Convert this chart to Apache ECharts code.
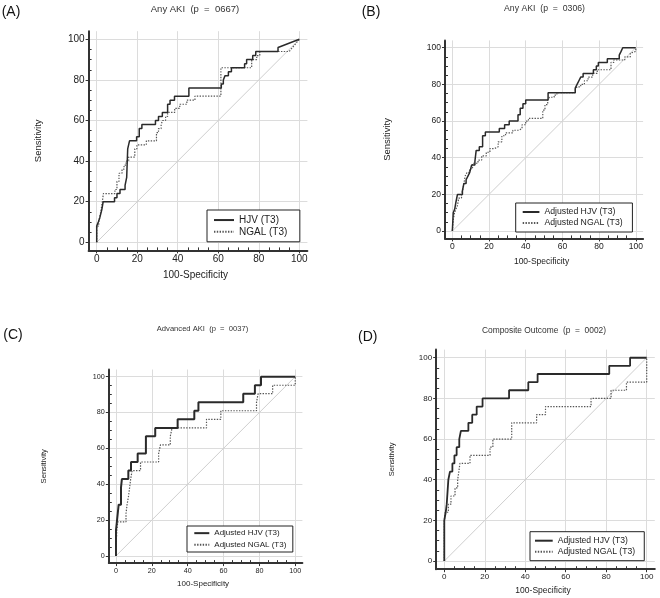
<!DOCTYPE html>
<html><head><meta charset="utf-8">
<script src="https://cdn.jsdelivr.net/npm/echarts@6/dist/echarts.min.js"></script>
<style>html,body{margin:0;padding:0;background:#fff}#c{width:660px;height:598px}</style>
</head><body><div id="c"></div>
<script>
// ---------- data ----------
const tickLabels = [0, 20, 40, 60, 80, 100];
const refLine = [[0, 0], [100, 100]];
const panelLabels = ['(A)', '(B)', '(C)', '(D)'];
const panelTitles = ['Any AKI  (p  =  0667)', 'Any AKI  (p  =  0306)', 'Advanced AKI  (p  =  0037)', 'Composite Outcome  (p  =  0002)'];
const namesA = ['HJV (T3)', 'NGAL (T3)'];
const namesAdj = ['Adjusted HJV (T3)', 'Adjusted NGAL (T3)'];
const xName = '100-Specificity';
const yName = 'Sensitivity';

const hjvA = [[0,0],[0,8],[0.8,8],[0.8,10],[1.5,10],[1.5,12],[2,12],[2,14],[2.5,14],[2.5,16],[3.2,16],[3.2,20],[8.8,20],[8.8,22],[10,22],[10,24],[11.5,24],[11.5,26],[14,26],[14,28],[14.8,28],[14.8,32],[15.3,32],[15.3,46],[16.2,46],[16.2,50],[19.7,50],[19.7,52],[21,52],[21,56],[22.3,56],[22.3,58],[29,58],[29,60],[30.5,60],[30.5,62],[32.4,62],[32.4,64],[35,64],[35,68],[36.2,68],[36.2,70],[38.4,70],[38.4,72],[45.5,72],[45.5,76],[61.5,76],[61.5,78],[62.5,78],[62.5,80],[63.3,80],[63.3,82],[65,82],[65,84],[66.5,84],[66.5,86],[73,86],[73,88],[74,88],[74,90],[77,90],[77,92],[78.5,92],[78.5,94],[89.5,94],[89.5,96],[100,100]];
const ngalA = [[0,0],[0,8],[1,8],[1,10],[1.8,10],[1.8,14],[2.5,14],[2.5,18],[3.3,18],[3.3,24],[9,24],[9,26],[10,26],[10,30],[11,30],[11,34],[12.5,34],[12.5,36],[13.5,36],[13.5,38],[14.5,38],[14.5,40],[15.8,40],[15.8,42],[18.8,42],[18.8,46],[19.8,46],[19.8,48],[24.5,48],[24.5,50],[29.5,50],[29.5,54],[30.5,54],[30.5,56],[31.8,56],[31.8,58],[32.5,58],[32.5,60],[34,60],[34,62],[35,62],[35,64],[38.5,64],[38.5,66],[41,66],[41,68],[44.5,68],[44.5,70],[48.5,70],[48.5,72],[61.3,72],[61.3,86],[76.5,86],[76.5,90],[79,90],[79,92],[80.5,92],[80.5,94],[95,94],[100,100]];

const hjvB = [[0,0],[0.5,0],[0.5,10],[1.3,10],[1.3,12],[2,12],[2,16],[2.8,16],[2.8,20],[5.5,20],[5.5,22],[6.3,22],[6.3,26],[7.5,26],[7.5,28],[8.5,28],[8.5,30],[9.5,30],[9.5,32],[10.5,32],[10.5,36],[12.3,36],[12.3,38],[13,38],[13,44],[14.7,44],[14.7,46],[16.5,46],[16.5,52],[18,52],[18,54],[25.6,54],[25.6,56],[28.5,56],[28.5,58],[31,58],[31,60],[35.8,60],[35.8,63.5],[37,63.5],[37,67],[38.5,67],[38.5,69.5],[40,69.5],[40,71.5],[52.2,71.5],[52.2,75.5],[67,75.5],[67,78],[68,78],[68,80],[69,80],[69,82],[70,82],[70,84],[71.3,84],[71.3,86],[76.9,86],[76.9,88],[78.5,88],[78.5,90],[79.6,90],[79.6,92],[84.5,92],[84.5,94],[91,94],[91,96],[92,96],[92,98],[92.9,98],[92.9,100],[100,100]];
const ngalB = [[0,0],[0.5,0],[0.5,6],[1.2,6],[1.2,10],[2,10],[2,12],[2.8,12],[2.8,14],[3.5,14],[3.5,18],[5,18],[5,20],[6,20],[6,24],[7,24],[7,30],[8,30],[8,32],[9.5,32],[9.5,34],[11,34],[11,37],[14,37],[14,38.7],[16,38.7],[16,41],[18.5,41],[18.5,43],[20.5,43],[20.5,45],[23,45],[23,46],[25,46],[25,48.7],[27,48.7],[27,52],[29,52],[29,53.6],[33,53.6],[33,55],[36.5,55],[36.5,56],[38,56],[38,58],[40,58],[40,60],[41.5,60],[41.5,61.5],[49.3,61.5],[49.3,66],[50.5,66],[50.5,69],[52,69],[52,71.5],[53,71.5],[53,73],[55.5,73],[55.5,74.2],[57,74.2],[57,75.5],[67,75.5],[67,77],[68,77],[68,78.7],[70,78.7],[70,80],[72,80],[72,82],[74,82],[74,84],[76.5,84],[76.5,86],[79,86],[79,88],[86.5,88],[86.5,92],[88,92],[88,93.3],[94,93.3],[94,95],[97,95],[97,97],[100,98],[100,100]];

const hjvC = [[0,0],[0,14.3],[0.5,14.3],[0.5,19],[1,19],[1,23.8],[1.5,23.8],[1.5,28.6],[2.8,28.6],[2.8,38.1],[3.3,38.1],[3.3,42.9],[6.9,42.9],[6.9,47.6],[8.4,47.6],[8.4,52.4],[12.1,52.4],[12.1,57.1],[16.7,57.1],[16.7,66.7],[21.9,66.7],[21.9,71.4],[34.4,71.4],[34.4,76.2],[43.7,76.2],[43.7,81],[46,81],[46,85.7],[71,85.7],[71,90.5],[77.5,90.5],[77.5,95.2],[80.9,95.2],[80.9,100],[100,100]];
const ngalC = [[0,0],[0,4.8],[0.5,4.8],[0.5,14.3],[1,14.3],[1,19],[5.6,19],[5.6,23.8],[6.2,23.8],[6.2,28.6],[7,28.6],[7,33.3],[7.6,33.3],[7.6,38.1],[8.2,38.1],[8.2,42.9],[9,42.9],[9,47.6],[13.7,47.6],[13.7,52.4],[23.8,52.4],[23.8,57.1],[24.8,57.1],[24.8,61.9],[30.3,61.9],[30.3,66.7],[31.3,66.7],[31.3,71.4],[50.5,71.4],[50.5,76.2],[58.5,76.2],[58.5,81],[78.4,81],[78.4,85.7],[79.3,85.7],[79.3,90.5],[87.4,90.5],[87.4,95.2],[100,95.2],[100,100]];

const hjvD = [[0,0],[0,20],[0.7,20],[0.7,24],[1.2,24],[1.2,28],[2,28],[2,40],[2.8,40],[2.8,44],[4,44],[4,48],[5,48],[5,52],[6.1,52],[6.1,56],[7.4,56],[7.4,60],[8.2,60],[8.2,64],[11.9,64],[11.9,68],[13.8,68],[13.8,72],[16,72],[16,76],[18.9,76],[18.9,80],[32,80],[32,84],[41.5,84],[41.5,88],[46.1,88],[46.1,92],[81.5,92],[81.5,96],[91.8,96],[91.8,100],[100,100]];
const ngalD = [[0,0],[0,20],[0.5,20],[0.5,24],[2,24],[2,28],[3.3,28],[3.3,32],[5.3,32],[5.3,36],[6.6,36],[6.6,40],[7.2,40],[7.2,44],[7.7,44],[7.7,48],[12.7,48],[12.7,52],[22.6,52],[22.6,56],[24,56],[24,60],[33.3,60],[33.3,68],[45.6,68],[45.6,72],[50,72],[50,76],[72.5,76],[72.5,80],[82.4,80],[82.4,84],[90,84],[90,88],[100,88],[100,100]];

// ---------- layout / style ----------
const FONT = '"Liberation Sans", Arial, sans-serif';
const minorTicks = [];
for (let v = 5; v < 100; v += 5) if (v % 20 !== 0) minorTicks.push(v);

const panels = [
  { hjv: hjvA, ngal: ngalA, names: namesA,
    grid: { left: 88.6, top: 31.2, width: 218.8, height: 219.2 },
    tickFont: 10, xNameFont: 10, yNameFont: 9.5, yGap: 45.6, xGap: 19.6, solidW: 1.5,
    legend: { left: 207, top: 210, pad: [4.2, 12.5, 4.2, 6], iw: 20, font: 10, lh: 11.7 },
    title: { x: 195, y: 9, size: 9.5 }, label: { x: 1.7, y: 12 } },
  { hjv: hjvB, ngal: ngalB, names: namesAdj,
    grid: { left: 445, top: 40.4, width: 198.1, height: 198 },
    tickFont: 8.5, xNameFont: 8.5, yNameFont: 9.5, yGap: 52.5, xGap: 19, solidW: 1.5,
    legend: { left: 515.7, top: 203, pad: [3.5, 9.8, 3.5, 6], iw: 16.7, font: 8.7, lh: 11 },
    title: { x: 544.5, y: 9, size: 8.7 }, label: { x: 361.7, y: 12.5 } },
  { hjv: hjvC, ngal: ngalC, names: namesAdj,
    grid: { left: 108.8, top: 369.5, width: 193.6, height: 193.6 },
    tickFont: 7.2, xNameFont: 8, yNameFont: 7.6, yGap: 60.8, xGap: 17, solidW: 2,
    legend: { left: 187, top: 526, pad: [1.3, 6.5, 1.3, 6.3], iw: 15, font: 8, lh: 11.7 },
    title: { x: 202.5, y: 329.3, size: 7.6 }, label: { x: 3.3, y: 335 } },
  { hjv: hjvD, ngal: ngalD, names: namesAdj,
    grid: { left: 436.2, top: 349.6, width: 218.6, height: 219.6 },
    tickFont: 8, xNameFont: 8.5, yNameFont: 7.5, yGap: 40, xGap: 17.4, solidW: 1.8,
    legend: { left: 530, top: 531.7, pad: [3.5, 9.2, 3.5, 4], iw: 17.7, font: 8.6, lh: 11 },
    title: { x: 544, y: 330.7, size: 8.4 }, label: { x: 358, y: 337.5 } }
];

const AXIS_COLOR = '#333';
const TEXT_COLOR = '#222';
const grids = [], xAxes = [], yAxes = [], series = [], legends = [], graphics = [];

panels.forEach((p, i) => {
  grids.push(Object.assign({ containLabel: false }, p.grid));
  const mainAxis = (isX) => ({
    gridIndex: i, type: 'value', min: -4, max: 104,
    position: isX ? 'bottom' : 'left',
    axisLine: { show: true, onZero: false, lineStyle: { color: AXIS_COLOR, width: 2 } },
    axisTick: { show: true, inside: false, length: 3, customValues: tickLabels, lineStyle: { color: AXIS_COLOR, width: 1 } },
    axisLabel: { customValues: tickLabels, fontSize: p.tickFont, color: TEXT_COLOR, fontFamily: FONT, margin: 4 },
    splitLine: { show: true, lineStyle: { color: '#dcdcdc', width: 1 } },
    name: isX ? xName : yName, nameLocation: 'middle',
    nameGap: isX ? p.xGap : p.yGap,
    nameTextStyle: { fontSize: isX ? p.xNameFont : p.yNameFont, color: TEXT_COLOR, fontFamily: FONT,
      padding: isX ? [0, 5, 0, 0] : 0 }
  });
  const minorAxis = (isX) => ({
    gridIndex: i, type: 'value', min: -4, max: 104,
    position: isX ? 'bottom' : 'left',
    axisLine: { show: false, onZero: false },
    axisTick: { show: true, inside: true, length: 3, customValues: minorTicks, lineStyle: { color: AXIS_COLOR, width: 1 } },
    axisLabel: { show: false },
    splitLine: { show: false }
  });
  xAxes.push(mainAxis(true), minorAxis(true));
  yAxes.push(mainAxis(false), minorAxis(false));
  const xi = 2 * i, yi = 2 * i;
  series.push({
    type: 'line', xAxisIndex: xi, yAxisIndex: yi, data: refLine, symbol: 'none', silent: true,
    lineStyle: { color: '#cfcfcf', width: 1 }, z: 1
  });
  series.push({
    name: p.names[0], type: 'line', xAxisIndex: xi, yAxisIndex: yi, data: p.hjv, symbol: 'none',
    lineStyle: { color: '#2a2a2a', width: p.solidW, type: 'solid' }, itemStyle: { color: '#2a2a2a' }, z: 3
  });
  series.push({
    name: p.names[1], type: 'line', xAxisIndex: xi, yAxisIndex: yi, data: p.ngal, symbol: 'none',
    lineStyle: { color: '#555', width: 1.2, type: [1.4, 1.4] }, itemStyle: { color: '#555' }, z: 2
  });
  legends.push({
    data: p.names, orient: 'vertical', left: p.legend.left, top: p.legend.top,
    padding: p.legend.pad, itemWidth: p.legend.iw, itemHeight: 6, itemGap: 0,
    backgroundColor: '#fff', borderColor: '#222', borderWidth: 1, borderRadius: 0,
    selectedMode: false,
    itemStyle: { opacity: 0, borderWidth: 0 },
    textStyle: { fontSize: p.legend.font, color: TEXT_COLOR, fontFamily: FONT, lineHeight: p.legend.lh }
  });
  graphics.push({
    type: 'text', x: p.title.x, y: p.title.y,
    style: { text: panelTitles[i], fontSize: p.title.size, fontFamily: FONT, fill: '#333',
      textAlign: 'center', textVerticalAlign: 'middle' }
  });
  graphics.push({
    type: 'text', x: p.label.x, y: p.label.y,
    style: { text: panelLabels[i], fontSize: 14, fontFamily: FONT, fill: '#111',
      textAlign: 'left', textVerticalAlign: 'middle' }
  });
});

const chart = echarts.init(document.getElementById('c'), null, { renderer: 'canvas' });
chart.setOption({
  animation: false,
  backgroundColor: '#fff',
  grid: grids, xAxis: xAxes, yAxis: yAxes, series: series, legend: legends,
  graphic: graphics
});
</script></body></html>
